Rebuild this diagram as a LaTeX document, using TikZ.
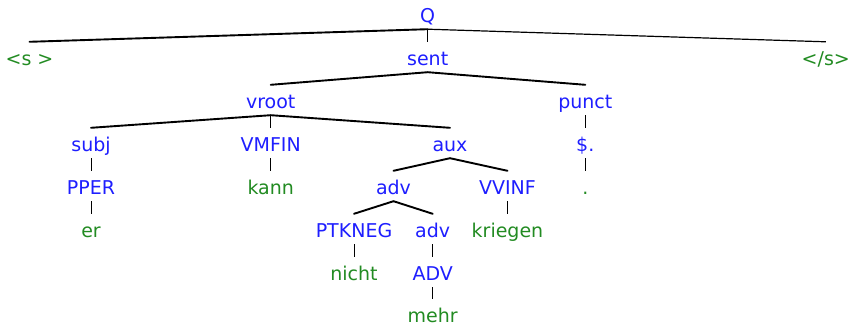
\documentclass[tikz,border=0pt]{standalone}
\usepackage{fontspec}
\setmainfont{DejaVu Sans}
\definecolor{catblue}{RGB}{30,30,255}
\definecolor{wordgreen}{RGB}{34,139,34}
\begin{document}
\begin{tikzpicture}[x=1pt,y=-1pt,
  tnode/.style={anchor=base,inner sep=0pt,text height=23pt,text depth=7pt,
    font=\fontsize{19}{21}\selectfont},
  cat/.style={tnode,text=catblue},
  word/.style={tnode,text=wordgreen},
  branch/.style={line width=1.9pt,line cap=round},
  stem/.style={line width=1pt}]
\useasboundingbox (0,0) rectangle (849,324);
% rows sit on baselines 43pt apart
\node[cat]  (Q)      at (427.7,22)  {Q};
\node[word] (bos)    at (29.5,65)   {<s >};
\node[cat]  (sent)   at (427.7,65)  {sent};
\node[word] (eos)    at (825.8,65)  {</s>};
\node[cat]  (vroot)  at (270.7,108) {vroot};
\node[cat]  (punct)  at (585.3,108) {punct};
\node[cat]  (subj)   at (91,151)    {subj};
\node[cat]  (vmfin)  at (270.7,151) {VMFIN};
\node[cat]  (aux)    at (450,151)   {aux};
\node[cat]  (dollar) at (585.3,151) {\$.};
\node[cat]  (pper)   at (91,194)    {PPER};
\node[word] (kann)   at (270.7,194) {kann};
\node[cat]  (adv)    at (393.5,194) {adv};
\node[cat]  (vvinf)  at (507.5,194) {VVINF};
\node[word] (dot)    at (585.3,194) {.};
\node[word] (er)     at (91,237)    {er};
\node[cat]  (ptkneg) at (354,237)   {PTKNEG};
\node[cat]  (adv2)   at (432.7,237) {adv};
\node[word] (kriegen) at (507.5,237) {kriegen};
\node[word] (nicht)  at (354,280)   {nicht};
\node[cat]  (advtag) at (432.7,280) {ADV};
\node[word,text depth=1pt] (mehr) at (432.7,322) {mehr};
% branching edges
\draw[branch] (Q.south) -- (bos.north);
\draw[line width=1.2pt] (Q.south) -- (eos.north);
\draw[stem] (Q.south) -- (sent.north);
\draw[branch] (sent.south) -- (vroot.north);
\draw[branch] (sent.south) -- (punct.north);
\draw[branch] (vroot.south) -- (subj.north);
\draw[stem] (vroot.south) -- (vmfin.north);
\draw[branch] (vroot.south) -- (aux.north);
\draw[branch] (aux.south) -- (adv.north);
\draw[branch] (aux.south) -- (vvinf.north);
\draw[branch] (adv.south) -- (ptkneg.north);
\draw[branch] (adv.south) -- (adv2.north);
% unary edges
\draw[stem] (punct.south) -- (dollar.north);
\draw[stem] (dollar.south) -- (dot.north);
\draw[stem] (subj.south) -- (pper.north);
\draw[stem] (pper.south) -- (er.north);
\draw[stem] (vmfin.south) -- (kann.north);
\draw[stem] (vvinf.south) -- (kriegen.north);
\draw[stem] (ptkneg.south) -- (nicht.north);
\draw[stem] (adv2.south) -- (advtag.north);
\draw[stem] (advtag.south) -- (mehr.north);
\end{tikzpicture}
\end{document}
